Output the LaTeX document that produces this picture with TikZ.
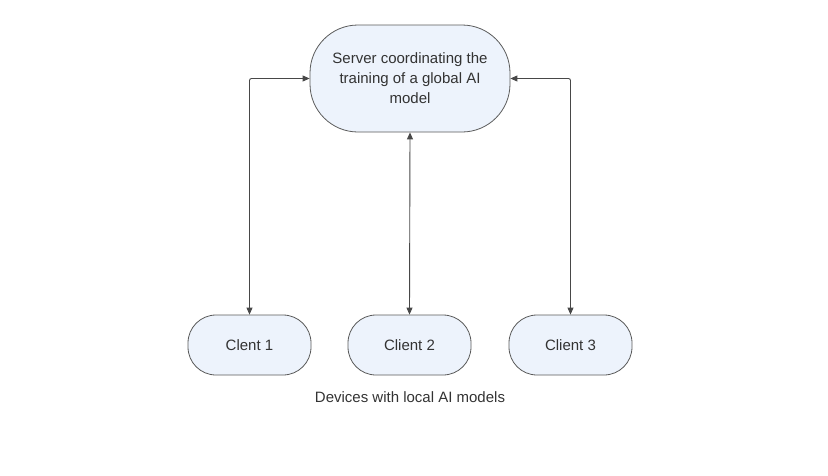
\documentclass[tikz,border=0pt]{standalone}
\usepackage{fontspec}
\setmainfont{Liberation Sans}
\usetikzlibrary{arrows.meta}
\definecolor{boxfill}{HTML}{EDF3FC}
\definecolor{boxline}{HTML}{5A5A5A}
\definecolor{txt}{HTML}{333333}
\begin{document}
\begin{tikzpicture}[x=1pt,y=-1pt,
  box/.style={draw=boxline,fill=boxfill,line width=0.8pt,text=txt,align=center,inner sep=0pt,font=\fontsize{15}{20}\selectfont},
  conn/.style={draw=boxline!80!black,line width=0.9pt,{Triangle[length=7pt,width=6pt]}-{Triangle[length=7pt,width=6pt]},rounded corners=2pt}]
\useasboundingbox (0,0) rectangle (828,475);
\node[box,minimum width=200pt,minimum height=107pt,rounded corners=48pt] (srv) at (410,78.5) {Server coordinating the\\training of a global AI\\model};
\node[box,minimum width=123pt,minimum height=60pt,rounded corners=28pt] (c1) at (249.5,345) {Clent 1};
\node[box,minimum width=123pt,minimum height=60pt,rounded corners=28pt] (c2) at (409.5,345) {Client 2};
\node[box,minimum width=123pt,minimum height=60pt,rounded corners=28pt] (c3) at (570.5,345) {Client 3};
\node[text=txt,font=\fontsize{15}{18}\selectfont] (lbl) at (410,397) {Devices with local AI models};
\draw[conn] (srv.west) -| (c1.north);
\draw[conn] (srv.south) -- (c2.north);
\draw[conn] (srv.east) -| (c3.north);
\end{tikzpicture}
\end{document}
